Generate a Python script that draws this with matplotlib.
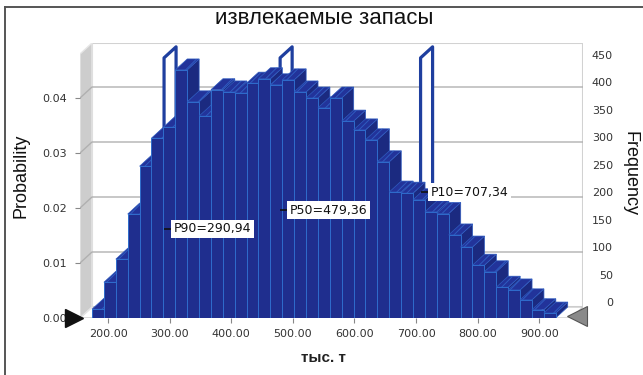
import matplotlib
matplotlib.use("Agg")
import matplotlib.pyplot as plt
from matplotlib.patches import Polygon, Rectangle
from matplotlib.lines import Line2D
from matplotlib import markers

# ---- data -------------------------------------------------------------
title = "извлекаемые запасы"
x_label = "тыс. т"
y_label_left = "Probability"
y_label_right = "Frequency"

bin_start = 174.0
bin_width = 19.3
probability = [
    0.0016, 0.0065, 0.0107, 0.0189, 0.0276, 0.0327, 0.0347, 0.0451,
    0.0393, 0.0367, 0.0415, 0.0411, 0.0409, 0.0427, 0.0435, 0.0424,
    0.0433, 0.0411, 0.0400, 0.0382, 0.0400, 0.0358, 0.0342, 0.0324,
    0.0284, 0.0229, 0.0227, 0.0215, 0.0193, 0.0190, 0.0151, 0.0129,
    0.0096, 0.0084, 0.0056, 0.0051, 0.0033, 0.0015, 0.0009,
]

x_ticks = [200, 300, 400, 500, 600, 700, 800, 900]
x_tick_labels = ["200.00", "300.00", "400.00", "500.00",
                 "600.00", "700.00", "800.00", "900.00"]
prob_ticks = [0.00, 0.01, 0.02, 0.03, 0.04]
prob_tick_labels = ["0.00", "0.01", "0.02", "0.03", "0.04"]
freq_ticks = [0, 50, 100, 150, 200, 250, 300, 350, 400, 450]

percentile_values = [290.94, 479.36, 707.34]
percentile_labels = ["P90=290,94", "P50=479,36", "P10=707,34"]

# ---- layout / style ---------------------------------------------------
W, H = 643, 375
X0, X1 = 154.5, 971.0          # value range covered by the plot box
DX, DY = 19.5, 0.002           # depth offset of the 3-D box (data units)
WALL_TOP = 0.048
MARKER_TOP = 0.0473
label_heights = [0.0162, 0.0196, 0.0229]

FRONT = "#1f2e8e"
SIDE = "#1b2a80"
TOP = "#22339a"
EDGE = "#2f6ccc"
TOP_EDGE = "#2f5cc0"
MARK = "#1f3f9f"
GRID = "#b0b0b0"

plt.rcParams["hatch.linewidth"] = 0.7

fig = plt.figure(figsize=(W / 100, H / 100), dpi=100)
ax = fig.add_axes([80 / W, 1 - 318 / H, (583 - 80) / W, (318 - 43) / H])
ax.set_xlim(X0, X1)
ax.set_ylim(0, 0.05)
ax.patch.set_visible(False)
for s in ax.spines.values():
    s.set_visible(False)

# back wall, floor, left wall
ax.add_patch(Rectangle((X0 + DX, DY), X1 - X0 - DX, WALL_TOP,
                       fc="white", ec="#d2d2d2", lw=1.5, zorder=1))
ax.add_patch(Polygon([(X0, 0), (X1 - DX, 0), (X1, DY), (X0 + DX, DY)],
                     closed=True, fc="white", ec="#cccccc", lw=1.0, zorder=1))
ax.add_patch(Polygon([(X0, 0), (X0, WALL_TOP), (X0 + DX, WALL_TOP + DY),
                      (X0 + DX, DY)], closed=True, fc="#cdcdcd",
                     ec="#e6e6e6", lw=1.0, zorder=1.2))

# gridlines on the walls
for p in prob_ticks[1:]:
    ax.plot([X0, X0 + DX, X1], [p, p + DY, p + DY], color=GRID, lw=1.0,
            zorder=1.5, solid_joinstyle="miter")

# percentile markers (planes running through the depth)
for v in percentile_values:
    ax.add_patch(Polygon([(v, 0), (v, MARKER_TOP),
                          (v + DX, MARKER_TOP + DY), (v + DX, DY)],
                         closed=True, fc="white", ec=MARK, lw=2.3,
                         joinstyle="round", zorder=2.5))

# histogram columns, drawn left to right
for i, p in enumerate(probability):
    x0 = bin_start + i * bin_width
    x1 = x0 + bin_width
    ax.add_patch(Polygon([(x1, 0), (x1, p), (x1 + DX, p + DY), (x1 + DX, DY)],
                         closed=True, fc=SIDE, ec=TOP_EDGE, lw=0.5, zorder=3))
    ax.add_patch(Polygon([(x0, p), (x1, p), (x1 + DX, p + DY), (x0 + DX, p + DY)],
                         closed=True, fc=TOP, ec=TOP_EDGE, lw=0.5, hatch="///",
                         zorder=3))
    ax.add_patch(Rectangle((x0, 0), bin_width, p, fc=FRONT, ec=EDGE,
                           lw=0.7, zorder=3))

# percentile labels
for v, txt, y in zip(percentile_values, percentile_labels, label_heights):
    ax.plot([v], [y], marker=markers.TICKRIGHT, ms=5, mew=1.2,
            color="#111111", zorder=9)
    ax.annotate(txt, xy=(v, y), xytext=(7, 0), textcoords="offset points",
                ha="left", va="center", fontsize=9, family="DejaVu Sans",
                color="#111111", zorder=10,
                bbox=dict(boxstyle="square,pad=0.2", fc="white", ec="none"))

# grabbers at the ends of the value axis
ax.plot([X0 - 10.5], [0], marker=">", ms=13, color="#111111",
        clip_on=False, zorder=6)
ax.plot([X1 - DX + 9.5], [0.0004], marker="<", ms=14, color="#8a8a8a",
        mec="#555555", mew=0.8, clip_on=False, zorder=6)

# axes ticks
ax.set_xticks(x_ticks)
ax.set_xticklabels(x_tick_labels)
ax.set_yticks(prob_ticks)
ax.set_yticklabels(prob_tick_labels)
ax.tick_params(axis="x", length=3.6, width=0.8, color="#888888", pad=4.5,
               labelsize=8, labelcolor="#333333")
ax.tick_params(axis="y", length=3.6, width=0.8, color="#888888", pad=5.8,
               labelsize=8, labelcolor="#333333")

ax2 = ax.twinx()
ax2.set_ylim(-29.15, 471.9)
for s in ax2.spines.values():
    s.set_visible(False)
ax2.set_yticks(freq_ticks)
ax2.tick_params(axis="y", length=0, pad=21.6, labelsize=8,
                labelcolor="#333333")
for lab in ax2.get_yticklabels():
    lab.set_horizontalalignment("right")

# texts
fig.text(324 / W, 1 - 18 / H, title, ha="center", va="center",
         fontsize=16, family="Liberation Sans", color="#111111")
fig.text(21 / W, 1 - 176 / H, y_label_left, rotation=90, ha="center",
         va="center", fontsize=13, family="Liberation Sans", color="#111111")
fig.text(630 / W, 1 - 173 / H, y_label_right, rotation=270, ha="center",
         va="center", fontsize=13, family="Liberation Sans", color="#111111")
fig.text(323 / W, 1 - 358 / H, x_label, ha="center", va="center",
         fontsize=11, fontweight="bold", family="Liberation Sans",
         color="#222222")

# frame of the picture
fig.add_artist(Line2D([5 / W, 1], [1 - 7 / H, 1 - 7 / H],
                      transform=fig.transFigure, color="#555555", lw=1.4))
fig.add_artist(Line2D([5 / W, 5 / W], [0, 1 - 7 / H],
                      transform=fig.transFigure, color="#555555", lw=1.4))

fig.savefig("out.png", dpi=100)
